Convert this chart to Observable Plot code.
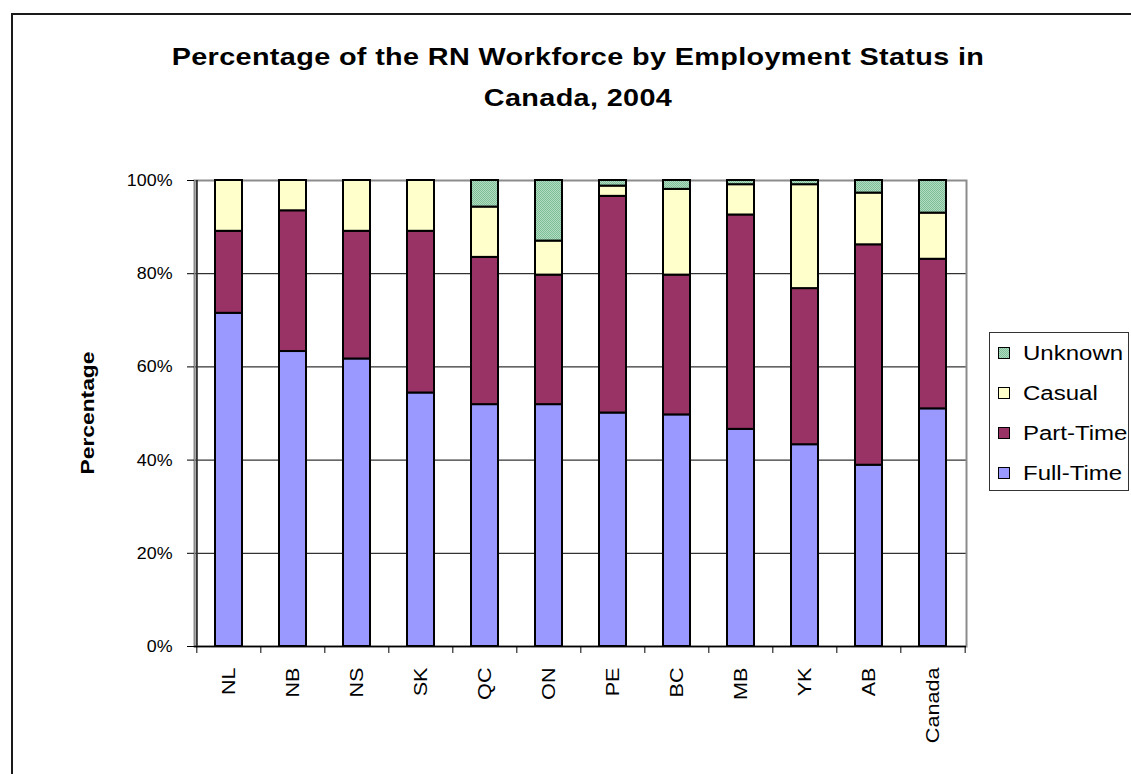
<!DOCTYPE html>
<html>
<head>
<meta charset="utf-8">
<script src="https://cdn.jsdelivr.net/npm/d3@7"></script>
<script src="https://cdn.jsdelivr.net/npm/@observablehq/plot@0.6"></script>
<style>
  html, body { margin: 0; padding: 0; background: #fff; overflow: hidden; }
  body { width: 1131px; height: 774px; position: relative; font-family: "Liberation Sans", Arial, sans-serif; color: #000; }
  #border { position: absolute; left: 11px; top: 13px; width: 1200px; height: 900px; border: 2px solid #1a1a1a; box-sizing: border-box; }
  #title { position: absolute; left: 0; top: 36px; width: 1156px; text-align: center; font-weight: bold; font-size: 24px; line-height: 41px; letter-spacing: 0.3px; transform: scaleX(1.2); transform-origin: 578px 0; }
  #ylabel { position: absolute; left: 88px; top: 413px; transform: translate(-50%, -50%) rotate(-90deg) scaleX(1.2); font-weight: bold; font-size: 19px; white-space: nowrap; }
  #chart { position: absolute; left: 0; top: 0; }
  #legend { position: absolute; left: 989px; top: 332px; width: 140px; height: 159px; border: 1.5px solid #333; box-sizing: border-box; padding: 0; }
  .item { height: 40px; display: flex; align-items: center; font-size: 20px; }
  .item span { display: inline-block; transform: scaleX(1.2); transform-origin: 0 50%; white-space: nowrap; }
  .sw { width: 10px; height: 10px; border: 1px solid #000; margin-left: 8px; margin-right: 13px; flex: none; }
</style>
</head>
<body>
<div id="border"></div>
<div id="title">Percentage of the RN Workforce by Employment Status in<br>Canada, 2004</div>
<div id="ylabel">Percentage</div>
<div id="chart"></div>
<div id="legend"></div>
<script>
// Registered nurse workforce by employment status, 2004 (percent of each jurisdiction)
const provinces = ["NL", "NB", "NS", "SK", "QC", "ON", "PE", "BC", "MB", "YK", "AB", "Canada"];
const fullTime = [71.5, 63.3, 61.7, 54.4, 51.9, 51.9, 50.1, 49.7, 46.6, 43.3, 38.9, 51.0];
const partTime = [17.6, 30.2, 27.4, 34.7, 31.6, 27.8, 46.5, 30.0, 46.0, 33.5, 47.3, 32.1];
const casual   = [10.9, 6.5, 10.9, 10.9, 10.8, 7.3, 2.2, 18.4, 6.5, 22.3, 11.1, 9.9];
const unknown  = [0, 0, 0, 0, 5.7, 13.0, 1.2, 1.9, 0.9, 0.9, 2.7, 7.0];

const statuses = ["Full-Time", "Part-Time", "Casual", "Unknown"];
const statusColors = ["#9999ff", "#993366", "#ffffcc", "url(#unknown-dots)"];
const yTicks = [0, 20, 40, 60, 80, 100];

const series = {"Full-Time": fullTime, "Part-Time": partTime, "Casual": casual, "Unknown": unknown};
const rows = statuses.flatMap(status =>
  provinces.map((province, i) => ({province, status, value: series[status][i]}))
).filter(d => d.value > 0);

const W = 1131, H = 774;
const margin = {top: 180, right: 165, bottom: 128, left: 194};
const step = (W - margin.left - margin.right) / provinces.length;

const chart = Plot.plot({
  width: W,
  height: H,
  marginTop: margin.top,
  marginRight: margin.right,
  marginBottom: margin.bottom,
  marginLeft: margin.left,
  style: {fontFamily: "'Liberation Sans', Arial, sans-serif", fontSize: "18px", color: "#000", background: "transparent"},
  x: {domain: provinces, paddingInner: 0.58, paddingOuter: 0.29, label: null},
  y: {domain: [0, 100], label: null},
  color: {domain: statuses, range: statusColors},
  marks: [
    Plot.ruleY([20, 40, 60, 80], {stroke: "#000", strokeWidth: 1}),
    Plot.frame({stroke: "#8c8c8c", strokeWidth: 2}),
    Plot.barY(rows, Plot.stackY({
      x: "province", y: "value", fill: "status", order: statuses,
      stroke: "#000", strokeWidth: 2
    })),
    Plot.ruleY([0], {stroke: "#000", strokeWidth: 1.5}),
    // value axis line on the left edge of the first band
    Plot.ruleX([provinces[0]], {x: d => d, y1: 0, y2: 100, dx: -step / 2, stroke: "#333", strokeWidth: 2}),
    // category tick marks between bands
    Plot.ruleX(provinces, {x: d => d, y1: 0, y2: 0, dx: -step / 2, insetBottom: -7, stroke: "#000", strokeWidth: 1}),
    Plot.ruleX(provinces.slice(-1), {x: d => d, y1: 0, y2: 0, dx: step / 2, insetBottom: -7, stroke: "#000", strokeWidth: 1}),
    Plot.axisY({ticks: yTicks, tickFormat: d => d + "%", tickSize: 7, tickPadding: 15, label: null, stroke: "#000", fontSize: 17}),
    Plot.axisX({tickSize: 0, tickPadding: 21, tickRotate: -90, label: null, fontSize: 18})
  ]
});

// dotted fill used for the "Unknown" segments
const svgNS = "http://www.w3.org/2000/svg";
const defs = document.createElementNS(svgNS, "defs");
defs.innerHTML = `<pattern id="unknown-dots" width="2" height="2" patternUnits="userSpaceOnUse">
  <rect width="2" height="2" fill="#b2dcc2"/>
  <rect width="1" height="1" fill="#7fbf98"/>
  <rect x="1" y="1" width="1" height="1" fill="#7fbf98"/>
</pattern>`;
chart.insertBefore(defs, chart.firstChild);

// widen the tick label glyphs along their reading direction
function widen(selector, factor) {
  chart.querySelectorAll(selector).forEach(t => {
    const tr = t.getAttribute("transform");
    if (tr) {
      t.setAttribute("transform", tr + ` scale(${factor},1)`);
    } else {
      const x = +t.getAttribute("x") || 0, y = +t.getAttribute("y") || 0;
      t.removeAttribute("x"); t.removeAttribute("y");
      t.setAttribute("transform", `translate(${x},${y}) scale(${factor},1)`);
    }
  });
}
widen("g[aria-label='x-axis tick label'] text", 1.2);
widen("g[aria-label='y-axis tick label'] text", 1.05);
document.getElementById("chart").appendChild(chart);

// legend, listed top to bottom in reverse stacking order
const legend = d3.select("#legend");
statuses.slice().reverse().forEach(status => {
  const item = legend.append("div").attr("class", "item");
  const sw = item.append("div").attr("class", "sw");
  const color = statusColors[statuses.indexOf(status)];
  if (color.startsWith("url")) {
    sw.style("background", "repeating-conic-gradient(#7fbf98 0 25%, #b2dcc2 0 50%) 0 0 / 2px 2px");
  } else {
    sw.style("background", color);
  }
  item.append("span").text(status);
});
</script>
</body>
</html>
